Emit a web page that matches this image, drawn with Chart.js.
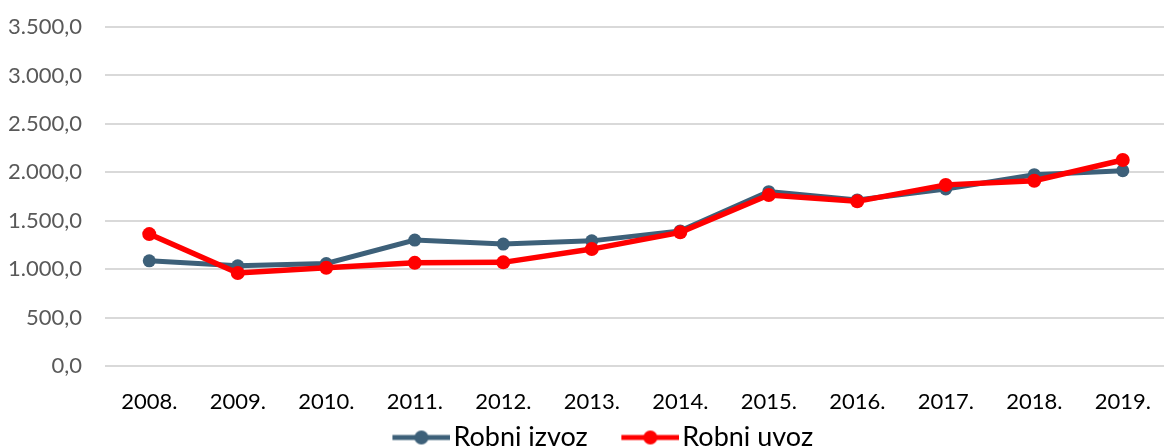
<!DOCTYPE html>
<html>
<head>
<meta charset="utf-8">
<script src="https://cdn.jsdelivr.net/npm/chart.js@4"></script>
<style>
  html, body { margin: 0; padding: 0; background: #fff; overflow: hidden; }
  #wrap { width: 1174px; height: 461px; }
</style>
</head>
<body>
<div id="wrap"><canvas id="myChart"></canvas></div>
<script>
const years = ["2008.", "2009.", "2010.", "2011.", "2012.", "2013.", "2014.", "2015.", "2016.", "2017.", "2018.", "2019."];
const robniIzvoz = [1086, 1034, 1058, 1300, 1259, 1292, 1395, 1800, 1715, 1828, 1975, 2017];
const robniUvoz = [1362, 960, 1015, 1065, 1070, 1207, 1380, 1766, 1700, 1870, 1913, 2127];
const yMin = 0;
const yMax = 3500;
const yStep = 500;

const izvozColor = "#3d6079";
const uvozColor = "#ff0000";

// number like 3.500,0
function formatNum(v) {
  const parts = Math.abs(v).toFixed(1).split(".");
  const intPart = parts[0].replace(/\B(?=(\d{3})+(?!\d))/g, ".");
  return (v < 0 ? "-" : "") + intPart + "," + parts[1];
}

// legend marker: short line with a dot, drawn on the right part of the image
// (the empty left part gives the gap between legend items)
function legendMarker(color) {
  const c = document.createElement("canvas");
  c.width = 92;
  c.height = 16;
  const g = c.getContext("2d");
  g.strokeStyle = color;
  g.lineWidth = 5;
  g.beginPath();
  g.moveTo(34, 8);
  g.lineTo(92, 8);
  g.stroke();
  g.fillStyle = color;
  g.beginPath();
  g.arc(63, 8, 7, 0, Math.PI * 2);
  g.fill();
  return c;
}

function draw() {
  const markers = [legendMarker(izvozColor), legendMarker(uvozColor)];
  var ctx = document.getElementById("myChart").getContext("2d");
  var myChart = new Chart(ctx, {
    type: "line",
    data: {
      labels: years,
      datasets: [
        {
          label: "Robni izvoz",
          data: robniIzvoz,
          borderColor: izvozColor,
          backgroundColor: izvozColor,
          borderWidth: 5,
          pointRadius: 6.5,
          pointHoverRadius: 6.5,
          pointBorderWidth: 0,
          tension: 0,
          order: 1,
        },
        {
          label: "Robni uvoz",
          data: robniUvoz,
          borderColor: uvozColor,
          backgroundColor: uvozColor,
          borderWidth: 5.5,
          pointRadius: 7,
          pointHoverRadius: 7,
          pointBorderWidth: 0,
          tension: 0,
          order: 0,
        },
      ],
    },
    options: {
      responsive: true,
      maintainAspectRatio: false,
      animation: false,
      layout: {
        padding: { top: 27, left: 8, right: 0, bottom: 0 },
      },
      scales: {
        x: {
          offset: true,
          grid: { display: false, drawTicks: false },
          border: { display: false },
          ticks: {
            color: "#000",
            padding: 23,
            maxRotation: 0,
            autoSkip: false,
            font: { family: "Lato", size: 22 },
          },
          afterFit: (scale) => {
            scale.height = 48;
            scale.paddingLeft = 0;
            scale.paddingRight = 0;
          },
        },
        y: {
          min: yMin,
          max: yMax,
          grid: { color: "#d9d9d9", lineWidth: 2, drawTicks: false },
          border: { display: false },
          ticks: {
            stepSize: yStep,
            color: "#595959",
            padding: 23,
            font: { family: "Lato", size: 22 },
            callback: (v) => formatNum(v),
          },
          afterFit: (scale) => {
            scale.width = 97;
            scale.paddingTop = 0;
            scale.paddingBottom = 0;
          },
        },
      },
      plugins: {
        legend: {
          display: true,
          position: "bottom",
          labels: {
            usePointStyle: true,
            pointStyleWidth: 71,
            boxHeight: 16,
            padding: 10,
            color: "#000",
            font: { family: "Lato", size: 27 },
            sort: (a, b) => a.datasetIndex - b.datasetIndex,
            generateLabels: function (chart) {
              const items = Chart.defaults.plugins.legend.labels.generateLabels(chart);
              items.forEach((item) => {
                item.pointStyle = markers[item.datasetIndex];
              });
              return items;
            },
          },
        },
        tooltip: { enabled: false },
      },
    },
  });
}

document.fonts.load("22px Lato").then(draw, draw);
</script>
</body>
</html>
